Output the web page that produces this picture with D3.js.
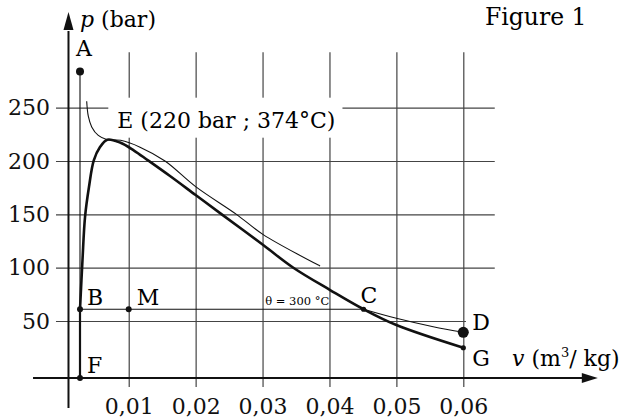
<!DOCTYPE html>
<meta charset="utf-8">
<script src="https://cdn.jsdelivr.net/npm/d3@7"></script>
<style>
body { margin: 0; background: #fff; }
svg { font-family: 'DejaVu Serif', serif; }
</style>
<svg width="632" height="420"></svg>
<script>
// tick values
var vTicks = [0.01, 0.02, 0.03, 0.04, 0.05, 0.06];
var pTicks = [50, 100, 150, 200, 250];

// curves, pairs of [v (m3/kg), p (bar)]
var liquidLine = [[0.00272, 61], [0.00309, 107], [0.00347, 147.5], [0.00406, 175.6],
                  [0.00478, 200.6], [0.00571, 213.1], [0.0068, 220]];
var vapourLine = [[0.0068, 220], [0.0087, 217.3], [0.01079, 209.8], [0.01288, 200.6], [0.01617, 185.9],
                  [0.0200, 168.1], [0.0239, 150], [0.0301, 121.2], [0.0346, 99.9], [0.0401, 79],
                  [0.0451, 61], [0.0500, 46.2], [0.0600, 24.9]];
var criticalIso = [[0.00372, 256], [0.00396, 242], [0.00447, 232], [0.00545, 224], [0.0068, 220],
                   [0.0088, 219.4], [0.01169, 213], [0.01542, 200], [0.0200, 176], [0.0261, 150],
                   [0.0301, 131], [0.0386, 101.5]];
var iso300Flat = [[0.00272, 284], [0.00272, 61], [0.0451, 61]];   // A -> B -> C
var iso300Gas = [[0.0451, 61], [0.0500, 52.5], [0.0555, 44.6], [0.0600, 39.4]];  // C -> D
var liquidComp = [[0.00272, -3.5], [0.00272, 61]];   // F -> B

// labelled points
var pointNames = ["A", "B", "M", "F", "C", "D", "G"];
var pointV = [0.00272, 0.00272, 0.01, 0.00272, 0.0451, 0.06, 0.06];
var pointP = [284, 61, 61, -3.5, 61, 39.4, 24.9];

var svg = d3.select("svg");

var x = d3.scaleLinear().domain([0, 0.06]).range([61.8, 463.3]);
var y = d3.scaleLinear().domain([0, 250]).range([374.3, 107.7]);

var comma = d3.formatLocale({decimal: ",", thousands: " ", grouping: [3], currency: ["", ""]}).format(".2f");

var vAxisPos = 0.001, pAxisPos = -3.5;
var gridTop = 302, gridBottom = -11.8, gridLeft = -0.00087, gridRight = 0.0647;

// vertical grid + v tick labels
var gx = svg.append("g")
  .attr("transform", "translate(0," + y(gridBottom) + ")")
  .call(d3.axisBottom(x).tickValues(vTicks).tickFormat(comma)
    .tickSize(-(y(gridBottom) - y(gridTop))).tickPadding(12));
gx.select(".domain").remove();

// horizontal grid + p tick labels
var gy = svg.append("g")
  .attr("transform", "translate(" + x(gridLeft) + ",0)")
  .call(d3.axisLeft(y).tickValues(pTicks)
    .tickSize(-(x(gridRight) - x(gridLeft))).tickPadding(6));
gy.select(".domain").remove();
gy.selectAll(".tick line").filter(function(d) { return d === 50; })
  .attr("x2", x(0.0604) - x(gridLeft));

svg.selectAll(".tick line").attr("stroke", "#444").attr("stroke-width", 1.2);
svg.selectAll(".tick text").attr("font-family", "DejaVu Serif").attr("font-size", 22).attr("fill", "#111");

// label of critical point, with white box cutting the grid
var eBox = svg.append("rect").attr("fill", "#fff");
var eText = svg.append("text")
  .attr("x", x(0.0068) + 10).attr("y", y(220) - 12)
  .attr("font-size", 22)
  .text("E (220 bar ; 374°C)");
var bb = eText.node().getBBox();
eBox.attr("x", bb.x - 9).attr("y", bb.y - 10)
  .attr("width", bb.width + 16).attr("height", bb.height + 15);

// axes
svg.append("line")
  .attr("x1", x(-0.0043)).attr("x2", x(0.078))
  .attr("y1", y(pAxisPos)).attr("y2", y(pAxisPos))
  .attr("stroke", "#111").attr("stroke-width", 2);
svg.append("line")
  .attr("x1", x(vAxisPos)).attr("x2", x(vAxisPos))
  .attr("y1", y(-31.6)).attr("y2", y(322))
  .attr("stroke", "#111").attr("stroke-width", 2);
var tipX = x(0.0801), tipY = y(339.7);
svg.append("path")
  .attr("d", "M" + tipX + "," + y(pAxisPos) + "L" + (tipX - 16) + "," + (y(pAxisPos) - 5) +
             "L" + (tipX - 16) + "," + (y(pAxisPos) + 5) + "Z")
  .attr("fill", "#111");
svg.append("path")
  .attr("d", "M" + x(vAxisPos) + "," + tipY + "L" + (x(vAxisPos) - 5) + "," + (tipY + 18) +
             "L" + (x(vAxisPos) + 5) + "," + (tipY + 18) + "Z")
  .attr("fill", "#111");

// curves
var smooth = d3.line().x(function(d) { return x(d[0]); }).y(function(d) { return y(d[1]); })
  .curve(d3.curveCatmullRom.alpha(0.5));
var straight = d3.line().x(function(d) { return x(d[0]); }).y(function(d) { return y(d[1]); });

svg.append("path").datum(iso300Flat).attr("d", straight)
  .attr("fill", "none").attr("stroke", "#111").attr("stroke-width", 1.1);
svg.append("path").datum(iso300Gas).attr("d", smooth)
  .attr("fill", "none").attr("stroke", "#111").attr("stroke-width", 1.1);
svg.append("path").datum(criticalIso).attr("d", smooth)
  .attr("fill", "none").attr("stroke", "#111").attr("stroke-width", 1.1);
svg.append("path").datum(liquidComp).attr("d", straight)
  .attr("fill", "none").attr("stroke", "#111").attr("stroke-width", 2.2);
// saturation dome drawn as one path so it stays smooth through E
svg.append("path").datum(liquidLine.concat(vapourLine.slice(1))).attr("d", smooth)
  .attr("fill", "none").attr("stroke", "#111").attr("stroke-width", 2.6);

// points and their letters
var radius = {A: 4, B: 3, M: 3, F: 3, C: 2.6, D: 5.5, G: 2.6};
var offset = {A: [-4, -15], B: [7, -4], M: [8, -4], F: [7, -5], C: [-3, -6], D: [9, -2], G: [9, 18]};

svg.selectAll("circle.pt")
  .data(pointNames)
  .enter().append("circle")
  .attr("class", "pt")
  .attr("cx", function(d, i) { return x(pointV[i]); })
  .attr("cy", function(d, i) { return y(pointP[i]); })
  .attr("r", function(d) { return radius[d]; })
  .attr("fill", "#111");

svg.selectAll("text.pt")
  .data(pointNames)
  .enter().append("text")
  .attr("class", "pt")
  .attr("x", function(d, i) { return x(pointV[i]) + offset[d][0]; })
  .attr("y", function(d, i) { return y(pointP[i]) + offset[d][1]; })
  .attr("font-size", 22)
  .text(function(d) { return d; });

// isotherm label
svg.append("text")
  .attr("x", x(0.0304)).attr("y", y(61) - 4.5)
  .attr("font-size", 11.5)
  .text("θ = 300 °C");

// axis titles
var pt = svg.append("text").attr("x", 80).attr("y", 27).attr("font-size", 22);
pt.append("tspan").attr("font-style", "italic").text("p");
pt.append("tspan").text(" (bar)");

var vt = svg.append("text").attr("x", 512).attr("y", 366).attr("font-size", 22);
vt.append("tspan").attr("font-style", "italic").text("v");
vt.append("tspan").text(" (m");
vt.append("tspan").attr("font-size", 13).attr("dy", -9).text("3");
vt.append("tspan").attr("dy", 9).text("/ kg)");

svg.append("text")
  .attr("x", 485).attr("y", 25)
  .attr("font-size", 23.5)
  .text("Figure 1");
</script>
